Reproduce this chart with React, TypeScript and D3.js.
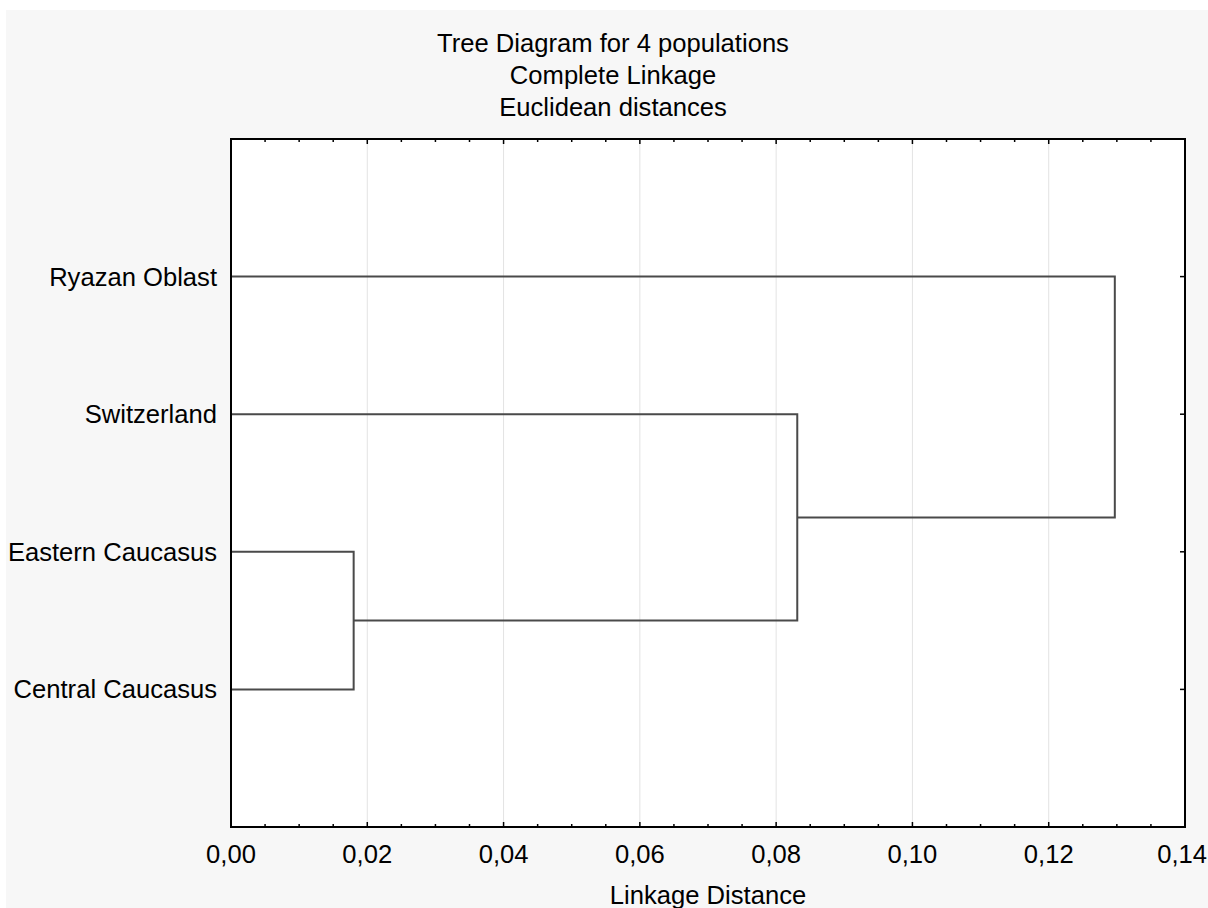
import * as d3 from "d3";
import { useEffect, useRef } from "react";

// leaves top to bottom
const leaves = ["Ryazan Oblast", "Switzerland", "Eastern Caucasus", "Central Caucasus"];
// joins: which two clusters merge, at what linkage distance
const joinA = ["Eastern Caucasus", "Switzerland", "Ryazan Oblast"];
const joinB = ["Central Caucasus", "c1", "c2"];
const joinH = [0.0180, 0.0831, 0.1297];
const titleLines = ["Tree Diagram for 4 populations", "Complete Linkage", "Euclidean distances"];
const xTicks = [0, 0.02, 0.04, 0.06, 0.08, 0.1, 0.12, 0.14];

const W = 1208;
const H = 908;
const FONT = "'Liberation Sans', Arial, sans-serif";

type Node = { id: string; h: number; y: number; kids: Node[] };

export default function App() {
  const ref = useRef<SVGSVGElement>(null);

  useEffect(() => {
    const svg = d3.select(ref.current);
    svg.selectAll("*").remove();

    const margin = { top: 139, right: 23, bottom: 81, left: 231 };
    const x = d3.scaleLinear().domain([0, 0.14]).range([margin.left, W - margin.right]);
    const y = d3.scaleLinear().domain([0, leaves.length + 1]).range([margin.top, H - margin.bottom]);

    // background
    svg.append("rect").attr("width", W).attr("height", H).attr("fill", "#fff");
    svg.append("rect").attr("x", 6).attr("y", 10).attr("width", W - 6).attr("height", H - 10).attr("fill", "#f7f7f7");
    svg.append("rect")
      .attr("x", x(0)).attr("y", y(0))
      .attr("width", x(0.14) - x(0)).attr("height", y(leaves.length + 1) - y(0))
      .attr("fill", "#fff");

    // grid
    svg.append("g").selectAll("line")
      .data(xTicks.slice(1, -1))
      .enter().append("line")
      .attr("x1", d => x(d)).attr("x2", d => x(d))
      .attr("y1", y(0)).attr("y2", y(leaves.length + 1))
      .attr("stroke", "#e3e3e3").attr("stroke-width", 1);

    // build the tree
    const nodes = new Map<string, Node>();
    leaves.forEach((l, i) => nodes.set(l, { id: l, h: 0, y: y(i + 1), kids: [] }));
    joinH.forEach((h, i) => {
      const a = nodes.get(joinA[i])!;
      const b = nodes.get(joinB[i])!;
      nodes.set("c" + (i + 1), { id: "c" + (i + 1), h, y: (a.y + b.y) / 2, kids: [a, b] });
    });
    const root = d3.hierarchy<Node>(nodes.get("c" + joinH.length)!, d => d.kids);

    const tree = svg.append("g").attr("fill", "none").attr("stroke", "#4a4a4a").attr("stroke-width", 2);
    root.each(n => {
      if (!n.children) return;
      const d = n.data;
      const path = d3.path();
      const [a, b] = d.kids;
      path.moveTo(x(a.h), a.y);
      path.lineTo(x(d.h), a.y);
      path.lineTo(x(d.h), b.y);
      path.lineTo(x(b.h), b.y);
      tree.append("path").attr("d", path.toString());
    });

    // ticks
    const minor = d3.range(0, 0.1401, 0.005).filter(v => Math.abs(Math.round(v / 0.02) * 0.02 - v) > 1e-6);
    const tk = svg.append("g").attr("stroke", "#000").attr("stroke-width", 1.5);
    const yb = y(leaves.length + 1);
    const yt = y(0);
    xTicks.forEach(v => {
      tk.append("line").attr("x1", x(v)).attr("x2", x(v)).attr("y1", yb).attr("y2", yb - 5);
      tk.append("line").attr("x1", x(v)).attr("x2", x(v)).attr("y1", yt).attr("y2", yt + 5);
    });
    minor.forEach(v => {
      tk.append("line").attr("x1", x(v)).attr("x2", x(v)).attr("y1", yb).attr("y2", yb - 3);
      tk.append("line").attr("x1", x(v)).attr("x2", x(v)).attr("y1", yt).attr("y2", yt + 3);
    });
    leaves.forEach((_, i) => {
      tk.append("line")
        .attr("x1", x(0.14)).attr("x2", x(0.14) - 5)
        .attr("y1", y(i + 1)).attr("y2", y(i + 1));
    });

    // frame
    svg.append("rect")
      .attr("x", x(0)).attr("y", y(0))
      .attr("width", x(0.14) - x(0)).attr("height", yb - yt)
      .attr("fill", "none").attr("stroke", "#000").attr("stroke-width", 2);

    const txt = svg.append("g").attr("font-family", FONT).attr("font-size", 25.6).attr("fill", "#000");

    // tick labels (last one kept inside the page edge)
    const last = xTicks.length - 1;
    txt.selectAll(".xl").data(xTicks).enter().append("text")
      .attr("x", (d, i) => (i === last ? W - 1 : x(d))).attr("y", 863)
      .attr("text-anchor", (_, i) => (i === last ? "end" : "middle"))
      .text(d => d3.format(".2f")(d).replace(".", ","));

    // leaf labels
    txt.selectAll(".yl").data(leaves).enter().append("text")
      .attr("x", x(0) - 14).attr("y", (_, i) => y(i + 1) + 9)
      .attr("text-anchor", "end")
      .text(d => d);

    // titles
    titleLines.forEach((t, i) => {
      txt.append("text").attr("x", 613).attr("y", 52 + i * 32).attr("text-anchor", "middle").text(t);
    });
    txt.append("text")
      .attr("x", (x(0) + x(0.14)) / 2).attr("y", 904)
      .attr("text-anchor", "middle").text("Linkage Distance");
  }, []);

  return (
    <svg ref={ref} width={W} height={H}
      style={{ position: "absolute", left: 0, top: 0, display: "block" }} />
  );
}
